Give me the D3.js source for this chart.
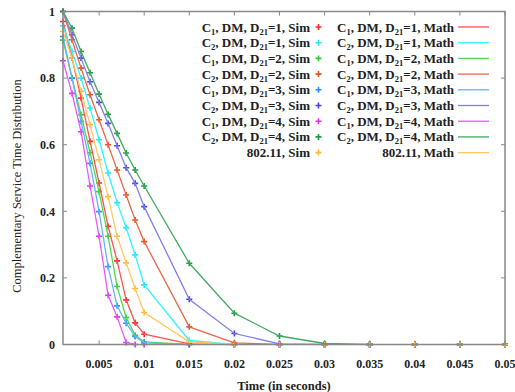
<!DOCTYPE html>
<html>
<head>
<meta charset="utf-8">
<script src="https://cdn.jsdelivr.net/npm/d3@7"></script>
<style>
  body { margin: 0; background: #fff; }
  svg text { font-family: "Liberation Serif", "DejaVu Serif", serif; }
</style>
</head>
<body>
<div id="chart"></div>
<script>
// sample times (seconds)
const times = [0.001, 0.002, 0.003, 0.004, 0.005, 0.006, 0.007, 0.008, 0.009, 0.010,
               0.015, 0.020, 0.025, 0.030, 0.035, 0.040, 0.045, 0.050];

// complementary service time distribution, one array per curve
const c1d1 = [0.97, 0.86, 0.74, 0.61, 0.485, 0.355, 0.251, 0.134, 0.065, 0.031, 0.002, 0, 0, 0, 0, 0, 0, 0];
const c2d1 = [0.957, 0.88, 0.80, 0.71, 0.615, 0.515, 0.426, 0.351, 0.269, 0.179, 0.012, 0, 0, 0, 0, 0, 0, 0];
const c1d2 = [0.914, 0.80, 0.69, 0.576, 0.459, 0.325, 0.174, 0.081, 0.028, 0.008, 0, 0, 0, 0, 0, 0, 0, 0];
const c2d2 = [1.0, 0.915, 0.83, 0.75, 0.675, 0.60, 0.524, 0.449, 0.374, 0.309, 0.053, 0.005, 0, 0, 0, 0, 0, 0];
const c1d3 = [0.925, 0.80, 0.67, 0.544, 0.399, 0.234, 0.116, 0.064, 0.024, 0.005, 0, 0, 0, 0, 0, 0, 0, 0];
const c2d3 = [1.0, 0.93, 0.86, 0.789, 0.727, 0.664, 0.597, 0.531, 0.484, 0.414, 0.136, 0.033, 0.002, 0, 0, 0, 0, 0];
const c1d4 = [0.852, 0.754, 0.639, 0.476, 0.325, 0.148, 0.083, 0.006, 0, 0, 0, 0, 0, 0, 0, 0, 0, 0];
const c2d4 = [1.0, 0.95, 0.88, 0.816, 0.752, 0.691, 0.634, 0.575, 0.524, 0.476, 0.244, 0.094, 0.0255, 0.003, 0, 0, 0, 0];
const wifi = [0.94, 0.86, 0.76, 0.66, 0.555, 0.444, 0.325, 0.245, 0.168, 0.096, 0.008, 0, 0, 0, 0, 0, 0, 0];

const xTicks = [0.005, 0.01, 0.015, 0.02, 0.025, 0.03, 0.035, 0.04, 0.045, 0.05];
const yTicks = [0, 0.2, 0.4, 0.6, 0.8, 1];

// legend entries: [class, D21] (null for 802.11)
const series = [
  { c: 1, d: 1, values: c1d1, sim: "#ff2a2a", math: "#ff5050" },
  { c: 2, d: 1, values: c2d1, sim: "#22e4ff", math: "#30f4ff" },
  { c: 1, d: 2, values: c1d2, sim: "#33cc33", math: "#50d850" },
  { c: 2, d: 2, values: c2d2, sim: "#e85020", math: "#e86848" },
  { c: 1, d: 3, values: c1d3, sim: "#2a90ff", math: "#60b4ff" },
  { c: 2, d: 3, values: c2d3, sim: "#4444d4", math: "#8080e8" },
  { c: 1, d: 4, values: c1d4, sim: "#dd33ee", math: "#e858ff" },
  { c: 2, d: 4, values: c2d4, sim: "#1e9a40", math: "#40aa60" },
  { c: null, d: null, values: wifi, sim: "#ffb830", math: "#ffc860" }
];

const W = 515, H = 392;
const margin = { top: 11.5, right: 10, bottom: 47.5, left: 63 };
const w = W - margin.left - margin.right;
const h = H - margin.top - margin.bottom;

const svg = d3.select("#chart").append("svg")
    .attr("width", W).attr("height", H);

const g = svg.append("g")
    .attr("transform", "translate(" + margin.left + "," + margin.top + ")");

const x = d3.scaleLinear().domain([0.001, 0.05]).range([0, w]);
const y = d3.scaleLinear().domain([0, 1]).range([h, 0]);

const axisColor = "#888";
const tickLen = 4;

// ticks, inward, mirrored
yTicks.forEach(v => {
  g.append("line").attr("x1", 0).attr("x2", tickLen).attr("y1", y(v)).attr("y2", y(v))
    .attr("stroke", axisColor).attr("stroke-width", 1);
  g.append("line").attr("x1", w).attr("x2", w - tickLen).attr("y1", y(v)).attr("y2", y(v))
    .attr("stroke", axisColor).attr("stroke-width", 1);
  g.append("text").attr("x", -8).attr("y", y(v)).attr("dy", "0.35em")
    .attr("text-anchor", "end").attr("font-size", 12).attr("font-weight", "bold")
    .attr("fill", "#222").text(d3.format("~g")(v));
});
xTicks.forEach(v => {
  g.append("line").attr("x1", x(v)).attr("x2", x(v)).attr("y1", h).attr("y2", h - tickLen)
    .attr("stroke", axisColor).attr("stroke-width", 1);
  g.append("line").attr("x1", x(v)).attr("x2", x(v)).attr("y1", 0).attr("y2", tickLen)
    .attr("stroke", axisColor).attr("stroke-width", 1);
  g.append("text").attr("x", x(v)).attr("y", h + 19).attr("dy", "0.35em")
    .attr("text-anchor", "middle").attr("font-size", 12).attr("font-weight", "bold")
    .attr("fill", "#222").text(String(v));
});

// axis titles
svg.append("text")
    .attr("x", margin.left + w / 2).attr("y", 390)
    .attr("text-anchor", "middle").attr("font-size", 12.5).attr("font-weight", "bold")
    .attr("fill", "#222").text("Time (in seconds)");
svg.append("text")
    .attr("transform", "translate(21,186) rotate(-90)")
    .attr("text-anchor", "middle").attr("font-size", 12.5)
    .attr("fill", "#222").text("Complementary Service Time Distribution");

function plus(sel, cx, cy, r, color) {
  sel.append("path")
    .attr("d", "M" + (cx - r) + "," + cy + "H" + (cx + r) + "M" + cx + "," + (cy - r) + "V" + (cy + r))
    .attr("stroke", color).attr("stroke-width", 1.6).attr("fill", "none");
}

// simulation points (drawn first, like gnuplot's plot order)
series.forEach(s => {
  s.values.forEach((v, i) => {
    plus(g, x(times[i]), y(v), 3, s.sim);
  });
});

// analytical curves, stop at the first zero
const line = d3.line().x(d => x(d[0])).y(d => y(d[1]));
series.forEach(s => {
  const pts = [];
  for (let i = 0; i < times.length; i++) {
    pts.push([times[i], s.values[i]]);
    if (s.values[i] === 0) break;
  }
  g.append("path").datum(pts)
    .attr("d", line)
    .attr("fill", "none").attr("stroke", s.math).attr("stroke-width", 1.3);
});

// frame
g.append("rect").attr("width", w).attr("height", h)
  .attr("fill", "none").attr("stroke", axisColor).attr("stroke-width", 1.5);

// legend
const rowH = 15.7, row0 = 27;
function label(sel, s, kind) {
  const t = sel.append("text").attr("text-anchor", "end").attr("font-size", 13)
    .attr("font-weight", "bold").attr("fill", "#222");
  if (s.c === null) {
    t.text("802.11, " + kind);
    return t;
  }
  t.append("tspan").text("C");
  t.append("tspan").attr("font-size", 8.5).attr("dy", 3).text(s.c);
  t.append("tspan").attr("dy", -3).text(", DM, D");
  t.append("tspan").attr("font-size", 8.5).attr("dy", 3).text("21");
  t.append("tspan").attr("dy", -3).text("=" + s.d + ", " + kind);
  return t;
}
series.forEach((s, i) => {
  const yy = row0 + i * rowH;
  label(svg, s, "Sim").attr("x", 310).attr("y", yy).attr("dy", "0.35em");
  plus(svg, 318.5, yy, 3, s.sim);
  label(svg, s, "Math").attr("x", 454).attr("y", yy).attr("dy", "0.35em");
  svg.append("line").attr("x1", 458).attr("x2", 489).attr("y1", yy).attr("y2", yy)
    .attr("stroke", s.math).attr("stroke-width", 1.3);
});
</script>
</body>
</html>
